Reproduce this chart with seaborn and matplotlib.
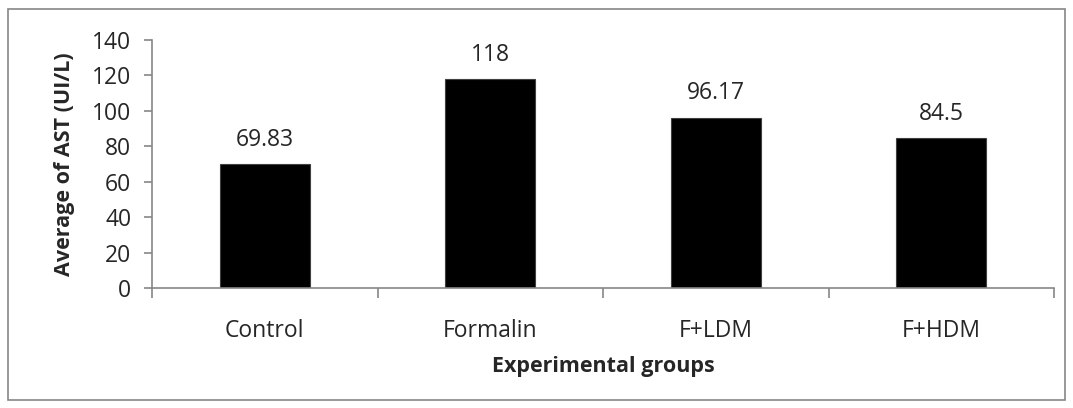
import numpy as np
import pandas as pd
import matplotlib
matplotlib.use('Agg')
import matplotlib.pyplot as plt
import seaborn as sns
from matplotlib.patches import Rectangle

groups = ["Control", "Formalin", "F+LDM", "F+HDM"]
ast_means = [69.83, 118, 96.17, 84.5]
value_labels = ["69.83", "118", "96.17", "84.5"]

df = pd.DataFrame({"group": groups, "ast": ast_means})

sns.set_theme(style="white")
plt.rcParams['font.family'] = ['Open Sans', 'DejaVu Sans']

fig = plt.figure(figsize=(10.73, 4.08), dpi=100, facecolor='white')
ax = fig.add_axes([152 / 1073, 1 - 288 / 408, 902 / 1073, 248 / 408])

sns.barplot(data=df, x="group", y="ast", color="black", width=0.4,
            edgecolor="#404040", linewidth=0.8, saturation=1, ax=ax)

ax.set_xlim(-0.5, len(groups) - 0.5)
ax.set_ylim(0, 140)
ax.set_yticks(np.arange(0, 141, 20))

axis_col = "#868686"
for side in ["top", "right"]:
    ax.spines[side].set_visible(False)
for side in ["left", "bottom"]:
    ax.spines[side].set_color(axis_col)
    ax.spines[side].set_linewidth(1.2)

ax.tick_params(axis='y', which='major', length=6, width=1.2, color=axis_col,
               labelsize=16.5, pad=9, left=True)
ax.tick_params(axis='x', which='major', length=0, labelsize=16.5, pad=22)
ax.set_xticks(np.arange(-0.5, len(groups)), minor=True)
ax.tick_params(axis='x', which='minor', length=7, width=1.2, color=axis_col,
               bottom=True)

for i, (v, lab) in enumerate(zip(ast_means, value_labels)):
    ax.text(i, v + 7, lab, ha='center', va='bottom', fontsize=16.5)

ax.set_xlabel("Experimental groups", fontsize=15.5, fontweight='bold', labelpad=10)
ax.set_ylabel("Average of AST (UI/L)", fontsize=15.5, fontweight='bold', labelpad=12)

# outer chart border
fig.patches.append(Rectangle((8 / 1073, 8 / 408), 1 - 16 / 1073, 1 - 17 / 408,
                             transform=fig.transFigure, fill=False,
                             edgecolor="#868686", linewidth=1.2))

fig.savefig("out.png", dpi=100, facecolor='white')
